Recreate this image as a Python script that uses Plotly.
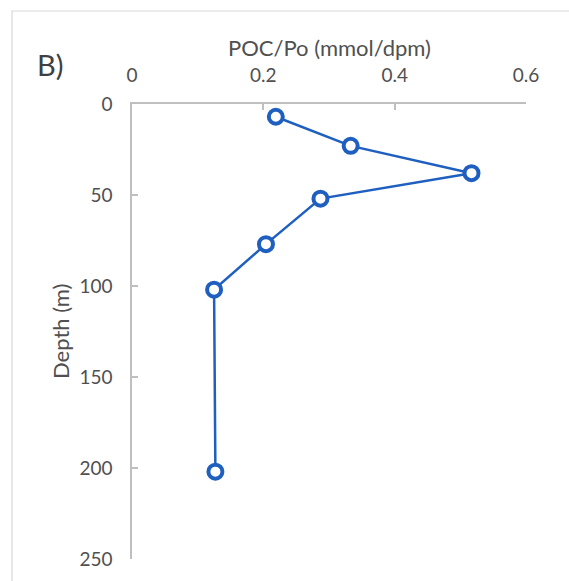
import plotly.graph_objects as go

depth_m = [7, 23, 38, 52, 77, 102, 202]
poc_po = [0.219, 0.333, 0.517, 0.287, 0.204, 0.125, 0.127]
x_ticks = [0, 0.2, 0.4, 0.6]
x_tick_labels = ["0", "0.2", "0.4", "0.6"]
y_ticks = [0, 50, 100, 150, 200, 250]
y_tick_labels = ["0", "50", "100", "150", "200", "250"]

W, H = 569, 581
L, R, T, B = 132, 43, 104, 22
pw, ph = W - L - R, H - T - B

blue = "#1F5FBF"
gray_txt = "#505050"
axis_gray = "#BFBFBF"
font_family = "Lato"

fig = go.Figure()
fig.add_trace(go.Scatter(
    x=poc_po, y=depth_m, mode="lines+markers",
    line=dict(color=blue, width=2.5),
    marker=dict(symbol="circle", size=14, color="white",
                line=dict(color=blue, width=4)),
    showlegend=False, cliponaxis=False,
))

fig.update_layout(
    width=W, height=H,
    margin=dict(l=L, r=R, t=T, b=B),
    paper_bgcolor="white", plot_bgcolor="white",
    font=dict(family=font_family, color=gray_txt, size=18.5),
    xaxis=dict(
        side="top", range=[0, 0.6], tickvals=x_ticks, ticktext=x_tick_labels,
        showgrid=False, zeroline=False, showline=True, linecolor=axis_gray,
        linewidth=1.5, ticks="inside", ticklen=6, tickcolor=axis_gray,
        tickwidth=1.5, ticklabelstandoff=13,
        tickfont=dict(size=19, color=gray_txt),
    ),
    yaxis=dict(
        range=[250, 0], tickvals=y_ticks, ticktext=y_tick_labels,
        showgrid=False, zeroline=False, showline=True, linecolor=axis_gray,
        linewidth=1.5, ticks="inside", ticklen=6, tickcolor=axis_gray,
        tickwidth=1.5, ticklabelstandoff=14,
        tickfont=dict(size=19, color=gray_txt),
    ),
    shapes=[dict(
        type="rect", xref="paper", yref="paper",
        x0=(12 - L) / pw, x1=(W + 20 - L) / pw,
        y0=-(B + 20) / ph, y1=1 + (T - 11) / ph,
        line=dict(color="#D9D9D9", width=1.2), fillcolor="rgba(0,0,0,0)",
        layer="below",
    )],
    annotations=[
        dict(text="POC/Po (mmol/dpm)", xref="paper", yref="paper",
             x=(329 - L) / pw, y=1 + (T - 47) / ph, showarrow=False,
             xanchor="center", yanchor="middle",
             font=dict(size=22, color=gray_txt)),
        dict(text="Depth (m)", xref="paper", yref="paper",
             x=(60 - L) / pw, y=1 - (332 - T) / ph, showarrow=False,
             textangle=-90, xanchor="center", yanchor="middle",
             font=dict(size=22, color=gray_txt)),
        dict(text="B)", xref="paper", yref="paper",
             x=(50 - L) / pw, y=1 + (T - 64) / ph, showarrow=False,
             xanchor="center", yanchor="middle",
             font=dict(size=29, color="#404040")),
    ],
)

fig.write_html("out.html", config={"displayModeBar": False},
               post_script="document.body.style.margin='0';")
